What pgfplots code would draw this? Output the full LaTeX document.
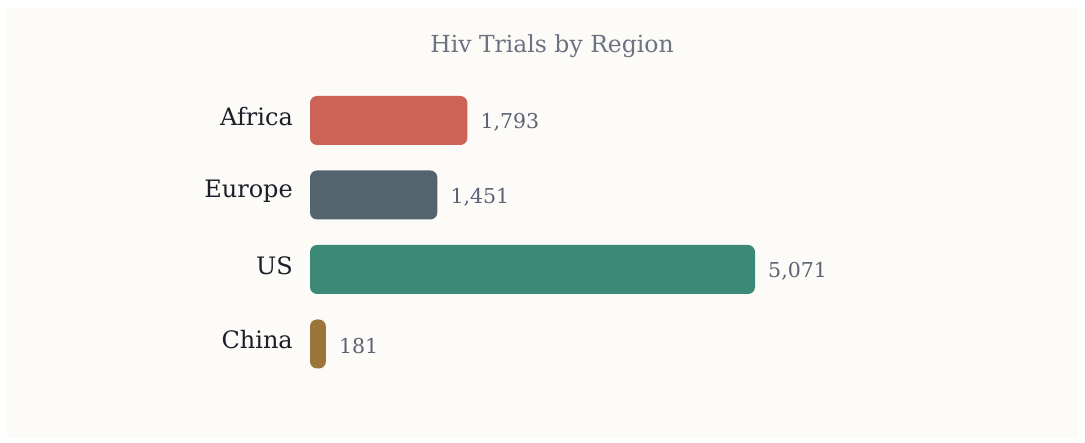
\documentclass[border=0pt]{standalone}
\usepackage{pgfplots}
\pgfplotsset{compat=1.18}
\usepackage{fontspec}
\setmainfont{DejaVu Serif}
\definecolor{bg}{HTML}{FDFBF7}
\definecolor{cAfrica}{HTML}{CD6256}
\definecolor{cEurope}{HTML}{54646F}
\definecolor{cUS}{HTML}{3C8978}
\definecolor{cChina}{HTML}{9A7439}
\definecolor{labc}{HTML}{1A1F29}
\definecolor{valc}{HTML}{5B6374}
\definecolor{titlec}{HTML}{6B7280}
\begin{document}
\begin{tikzpicture}
\fill[white] (0,0) rectangle (1085pt,-443pt);
\fill[bg] (7pt,-8pt) rectangle (1078pt,-438pt);
\node[text=titlec, font=\fontsize{23.5}{28}\selectfont] at (552pt,-46pt) {Hiv Trials by Region};
\begin{axis}[
  at={(310pt,-8pt)}, anchor=north west,
  scale only axis, width=768pt, height=430pt,
  xmin=0, xmax=8751, ymin=-1.510, ymax=4.262, y dir=reverse,
  axis line style={draw=none}, xtick=\empty,
  ytick={0,1,2,3}, yticklabels={Africa,Europe,US,China},
  major tick length=0pt,
  yticklabel style={font=\fontsize{24}{28}\selectfont, text=labc, inner sep=0pt, xshift=-17pt, yshift=4pt},
  xbar, bar width=49pt, bar shift=0pt,
  point meta=x,
  nodes near coords,
  nodes near coords style={anchor=west, inner sep=0pt, xshift=13pt, yshift=-2pt,
     font=\fontsize{20.5}{24}\selectfont, text=valc,
     /pgf/number format/.cd, 1000 sep={,}, assume math mode=true},
]
\addplot[fill=cAfrica, draw=none, rounded corners=7pt] coordinates {(1793,0)};
\addplot[fill=cEurope, draw=none, rounded corners=7pt] coordinates {(1451,1)};
\addplot[fill=cUS, draw=none, rounded corners=7pt] coordinates {(5071,2)};
\addplot[fill=cChina, draw=none, rounded corners=7pt] coordinates {(181,3)};
\end{axis}
\end{tikzpicture}
\end{document}
